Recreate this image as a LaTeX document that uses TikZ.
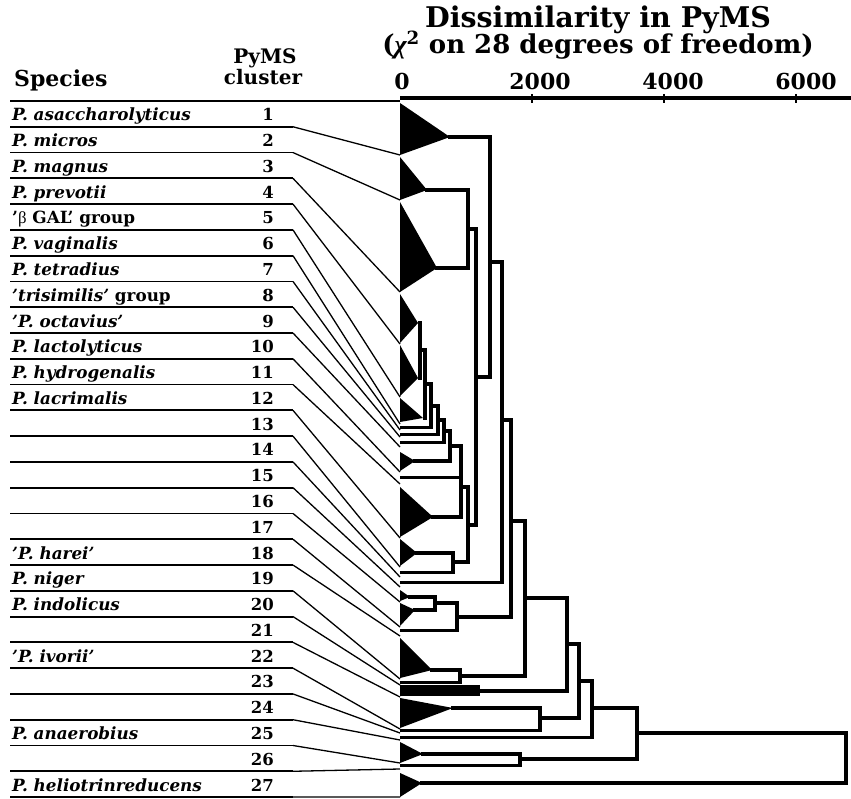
\documentclass[tikz,border=0pt]{standalone}
\usepackage{fontspec}
\setmainfont{DejaVu Serif}
\newfontfamily\grk{Liberation Serif}
\tikzset{
  dg/.style={line width=3.8pt, line cap=rect},
  leafline/.style={line width=3pt},
  rowline/.style={line width=1.8pt},
  conn/.style={line width=1.3pt},
  spname/.style={inner sep=0pt, anchor=base west, font=\fontsize{16.8}{18}\selectfont\bfseries\itshape},
  clnum/.style={inner sep=0pt, anchor=base east, font=\fontsize{16.5}{18}\selectfont\bfseries},
  hdr/.style={inner sep=0pt, anchor=base, font=\fontsize{20}{22}\selectfont\bfseries},
  axlab/.style={inner sep=0pt, anchor=base, font=\fontsize{22}{24}\selectfont\bfseries},
  ttl/.style={inner sep=0pt, anchor=base, font=\fontsize{28.5}{30}\selectfont\bfseries}
}
\newcommand\dgbr[5]{\draw[dg] (#1,#2) -- (#1,#3); \draw[dg] (#1,#4) -- (#5,#4);}
\newcommand\dgtri[4]{\fill (400,#1) -- (#2,#3) -- (400,#4) -- cycle;}
\begin{document}
\begin{tikzpicture}[x=1pt,y=-1pt]
\useasboundingbox (0,0) rectangle (851,799);
\fill[white] (0,0) rectangle (851,799);
% titles
\node[ttl] (t1) at (598,28) {Dissimilarity in PyMS};
\node[ttl, font=\fontsize{26}{28}\selectfont\bfseries] (t2) at (598,54) {({\grk\itshape χ}\textsuperscript{2} on 28 degrees of freedom)};
\node[hdr, anchor=base west, font=\fontsize{22}{24}\selectfont\bfseries] (hsp) at (14,87) {Species};
\node[hdr] (hpy) at (265,64) {PyMS};
\node[hdr] (hcl) at (263,85) {cluster};
\node[axlab] (a0) at (402,90) {0};
\node[axlab] (a2) at (540,90) {2000};
\node[axlab] (a4) at (673,90) {4000};
\node[axlab] (a6) at (806,90) {6000};
% axis
\draw[line width=4pt] (400,98.5) -- (851,98.5);
\foreach \tx in {532,664,796} {\draw[line width=1.5pt] (\tx,94) -- (\tx,103);}
% table rows and connectors
\foreach \k/\b in {0/101,1/155,2/200,3/292,4/344,5/397,6/424,7/430,8/437,9/447,10/472,11/484,12/538,13/567,14/577,15/587,16/602,17/627,18/636,19/679,20/685,21/697,22/729,23/733,24/740,25/763,26/769,27/797} {
  \pgfmathsetmacro\yy{101+25.78*\k}
  \coordinate (r\k) at (10,\yy);
  \coordinate (m\k) at (293,\yy);
  \coordinate (b\k) at (400,\b);
  \draw[rowline] (r\k) -- (m\k);
  \draw[conn] (m\k) -- (b\k);
}
% species names and cluster numbers
\foreach \i/\t in {1/{P. asaccharolyticus},2/{P. micros},3/{P. magnus},4/{P. prevotii},
  5/{\upshape '{\grk\mdseries β} GAL' group},6/{P. vaginalis},7/{P. tetradius},8/{'trisimilis' \upshape group},
  9/{'P. octavius'},10/{P. lactolyticus},11/{P. hydrogenalis},12/{P. lacrimalis},
  13/{},14/{},15/{},16/{},17/{},18/{'P. harei'},19/{P. niger},20/{P. indolicus},21/{},
  22/{'P. ivorii'},23/{},24/{},25/{P. anaerobius},26/{},27/{P. heliotrinreducens}} {
  \pgfmathsetmacro\yt{101+25.78*\i-6}
  \node[spname] (s\i) at (12,\yt) {\t};
  \node[clnum] (c\i) at (274,\yt) {\i};
}
% leaf triangles
\dgtri{103}{450}{137}{155}
\dgtri{157}{427}{190}{200}
\dgtri{202}{437}{268}{292}
\dgtri{294}{418}{323}{343}
\dgtri{345}{418}{378}{396}
\dgtri{398}{423}{418}{422}
\dgtri{452}{415}{461}{471}
\dgtri{487}{433}{517}{537}
\dgtri{539}{417}{553}{566}
\dgtri{590}{410}{597}{601}
\dgtri{603}{415}{610}{626}
\dgtri{638}{432}{670}{678}
\dgtri{698}{453}{708}{728}
\dgtri{742}{423}{754}{763}
\dgtri{773}{422}{783}{797}
\fill (400,685) rectangle (480,696);
% apex horizontals
\draw[dg] (450,137) -- (490,137);
\draw[dg] (427,190) -- (468,190);
\draw[dg] (437,268) -- (468,268);
\draw[dg] (415,461) -- (450,461);
\draw[dg] (433,517) -- (461,517);
\draw[dg] (417,553) -- (453,553);
\draw[dg] (410,597) -- (435,597);
\draw[dg] (415,610) -- (435,610);
\draw[dg] (432,670) -- (460,670);
\draw[dg] (453,708) -- (540,708);
\draw[dg] (423,754) -- (520,754);
\draw[dg] (422,783) -- (846,783);
\draw[dg] (480,691) -- (567,691);
% thin leaves
\draw[leafline] (400,427) -- (431,427);
\draw[leafline] (400,434) -- (438,434);
\draw[leafline] (400,442) -- (444,442);
\draw[leafline] (400,477) -- (461,477);
\draw[leafline] (400,572) -- (453,572);
\draw[leafline] (400,582) -- (502,582);
\draw[leafline] (400,630) -- (457,630);
\draw[leafline] (400,682) -- (460,682);
\draw[leafline] (400,730) -- (540,730);
\draw[leafline] (400,737) -- (592,737);
\draw[leafline] (400,765) -- (520,765);
% internal nodes
\dgbr{420}{323}{378}{350}{425}
\dgbr{425}{350}{418}{384}{431}
\dgbr{431}{384}{427}{406}{438}
\dgbr{438}{406}{434}{420}{444}
\dgbr{444}{420}{442}{431}{450}
\dgbr{450}{431}{461}{446}{461}
\dgbr{461}{446}{517}{487}{468}
\dgbr{453}{553}{572}{562}{468}
\dgbr{468}{487}{562}{525}{476}
\dgbr{468}{190}{268}{229}{476}
\dgbr{476}{229}{525}{377}{490}
\dgbr{490}{137}{377}{262}{502}
\dgbr{502}{262}{582}{420}{511}
\dgbr{435}{597}{610}{603}{457}
\dgbr{457}{603}{630}{617}{511}
\dgbr{511}{420}{617}{521}{525}
\dgbr{460}{670}{682}{676}{525}
\dgbr{525}{521}{676}{598}{567}
\dgbr{567}{598}{691}{644}{579}
\dgbr{540}{708}{730}{718}{579}
\dgbr{579}{644}{718}{681}{592}
\dgbr{592}{681}{737}{708}{637}
\dgbr{520}{754}{765}{759}{637}
\dgbr{637}{708}{759}{733}{846}
\draw[dg] (846,733) -- (846,783);
\end{tikzpicture}
\end{document}
